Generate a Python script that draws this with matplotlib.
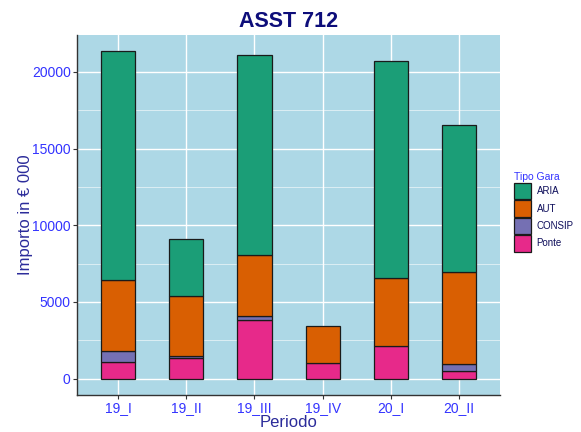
import matplotlib
matplotlib.use("Agg")
import matplotlib.pyplot as plt
import numpy as np
from matplotlib.patches import Patch

periodi = ["19_I", "19_II", "19_III", "19_IV", "20_I", "20_II"]
ponte = [1110, 1320, 3800, 1000, 2130, 520]
consip = [690, 150, 260, 0, 0, 430]
aut = [4600, 3900, 3980, 2410, 4460, 6030]
aria = [14940, 3710, 13040, 0, 14100, 9540]

serie = [("Ponte", ponte, "#E7298A"),
         ("CONSIP", consip, "#7570B3"),
         ("AUT", aut, "#D95F02"),
         ("ARIA", aria, "#1B9E77")]

plt.rcParams["font.family"] = ["Liberation Sans", "DejaVu Sans"]

fig = plt.figure(figsize=(5.81, 4.32), dpi=100)
ax = fig.add_axes([0.1325, 0.0856, 0.7285, 0.8334])
ax.set_facecolor("#ADD8E6")

x = np.arange(1, len(periodi) + 1)
base = np.zeros(len(periodi))
for nome, vals, col in serie:
    v = np.array(vals, dtype=float)
    mask = v > 0
    ax.bar(x[mask], v[mask], bottom=base[mask], width=0.5, color=col,
           edgecolor="#1a1a1a", linewidth=0.9, zorder=3)
    base += v

tot = base.max()
ax.set_ylim(-0.05 * tot, tot * 1.05)
ax.set_xlim(0.4, len(periodi) + 0.6)

ax.set_yticks([0, 5000, 10000, 15000, 20000])
ax.set_yticks([2500, 7500, 12500, 17500], minor=True)
ax.set_xticks(x)
ax.set_xticklabels(periodi)

ax.grid(which="major", color="white", linewidth=1.0, zorder=0)
ax.grid(which="minor", axis="y", color="white", linewidth=0.5, alpha=0.8, zorder=0)

for s in ["top", "right"]:
    ax.spines[s].set_visible(False)
for s in ["left", "bottom"]:
    ax.spines[s].set_color("#333333")
    ax.spines[s].set_linewidth(1.0)

ax.tick_params(axis="both", which="major", colors="#333333", length=3,
               labelcolor="#3333FF", labelsize=10, pad=1.5)
ax.tick_params(axis="y", which="minor", length=0)

ax.set_ylabel("Importo in € 000", color="#2B2B9A", fontsize=12, labelpad=-1)
ax.set_xlabel("Periodo", color="#2B2B9A", fontsize=12, labelpad=0)
ax.set_title("ASST 712", color="#0D0D7A", fontsize=15.5, fontweight="bold", pad=6)

handles = [Patch(facecolor=c, edgecolor="#1a1a1a", linewidth=0.9, label=n)
           for n, _, c in reversed(serie)]
leg = fig.legend(handles=handles, title="Tipo Gara", loc="center left",
                 bbox_to_anchor=(0.87, 0.51), frameon=False, fontsize=7,
                 title_fontsize=7.5, handlelength=1.7, handleheight=2.2,
                 labelspacing=0.12, handletextpad=0.6, alignment="left")
leg.get_title().set_color("#3333FF")
for t in leg.get_texts():
    t.set_color("#0D0D5A")

fig.savefig("out.png", dpi=100, facecolor="white")
